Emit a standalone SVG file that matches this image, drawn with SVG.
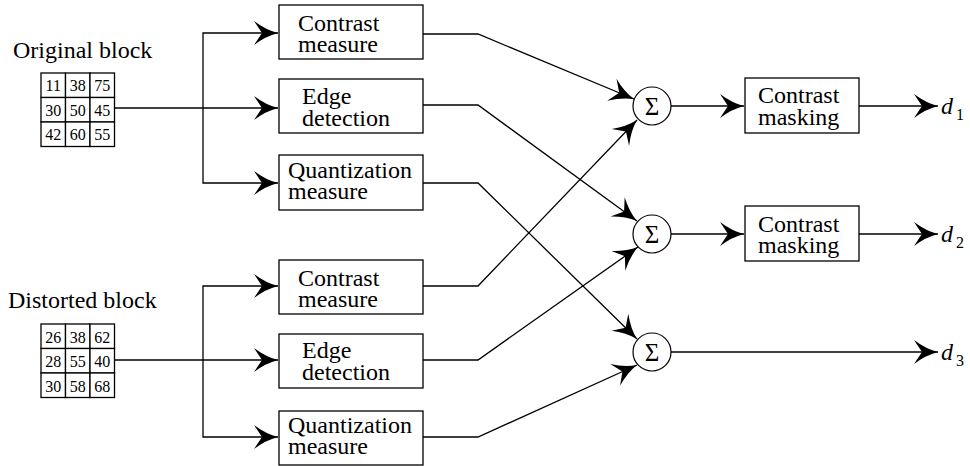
<svg xmlns="http://www.w3.org/2000/svg" width="970" height="466" viewBox="0 0 970 466" font-family="'Liberation Serif', 'DejaVu Serif', serif">
  <style>
    text { font-family: "Liberation Serif", "Times New Roman", "DejaVu Serif", serif; fill: #000; }
    .lbl { font-size: 24px; }
    .num { font-size: 16px; text-anchor: middle; }
    .sig { font-size: 25px; text-anchor: middle; }
    .out { font-size: 24px; font-style: italic; }
    .sub { font-size: 16px; font-style: normal; }
    .box { fill: #fff; stroke: #000; stroke-width: 1.3; }
    .cell { fill: #fff; stroke: #000; stroke-width: 1.3; }
    .sum { fill: #fff; stroke: #000; stroke-width: 1.2; }
    .wire { fill: none; stroke: #000; stroke-width: 1.3; }
    .arr { marker-end: url(#head); }
  </style>
  <defs>
    <marker id="head" viewBox="-26 -13 28 26" markerWidth="28" markerHeight="26" refX="0" refY="0" orient="auto" markerUnits="userSpaceOnUse">
      <path d="M0,0 Q-12,-3 -24,-12 L-16,0 L-24,12 Q-12,3 0,0 Z" fill="#000"/>
    </marker>
  </defs>

  <rect width="970" height="466" fill="#fff"/>

  <!-- connectors -->
  <g id="connectors">
    <!-- original block fan-out -->
    <path class="wire arr" d="M114,108 H278"/>
    <path class="wire arr" d="M203,108 V33 H278"/>
    <path class="wire arr" d="M203,108 V183 H278"/>
    <!-- distorted block fan-out -->
    <path class="wire arr" d="M114,360 H278"/>
    <path class="wire arr" d="M203,360 V286 H278"/>
    <path class="wire arr" d="M203,360 V437 H278"/>
    <!-- measures to summers -->
    <path class="wire arr" d="M423,34 H478 L634,99"/>
    <path class="wire arr" d="M423,105 H478 L637,221"/>
    <path class="wire arr" d="M423,183 H478 L637,339"/>
    <path class="wire arr" d="M423,286 H478 L637,120"/>
    <path class="wire arr" d="M423,360 H478 L638,247"/>
    <path class="wire arr" d="M423,437 H478 L637,365"/>
    <!-- summers to outputs -->
    <path class="wire arr" d="M671,106 H744"/>
    <path class="wire arr" d="M859,106 H938"/>
    <path class="wire arr" d="M671,234 H744"/>
    <path class="wire arr" d="M859,234 H938"/>
    <path class="wire arr" d="M671,352 H938"/>
  </g>

  <!-- original block -->
  <g id="original-block">
    <text class="lbl" x="13" y="58">Original block</text>
    <rect class="cell" x="41" y="73" width="24.5" height="24.5"/>
    <rect class="cell" x="65.5" y="73" width="24.5" height="24.5"/>
    <rect class="cell" x="90" y="73" width="24.5" height="24.5"/>
    <rect class="cell" x="41" y="97.5" width="24.5" height="24.5"/>
    <rect class="cell" x="65.5" y="97.5" width="24.5" height="24.5"/>
    <rect class="cell" x="90" y="97.5" width="24.5" height="24.5"/>
    <rect class="cell" x="41" y="122" width="24.5" height="24.5"/>
    <rect class="cell" x="65.5" y="122" width="24.5" height="24.5"/>
    <rect class="cell" x="90" y="122" width="24.5" height="24.5"/>
    <text class="num" x="53.25" y="91">11</text>
    <text class="num" x="77.75" y="91">38</text>
    <text class="num" x="102.25" y="91">75</text>
    <text class="num" x="53.25" y="115.5">30</text>
    <text class="num" x="77.75" y="115.5">50</text>
    <text class="num" x="102.25" y="115.5">45</text>
    <text class="num" x="53.25" y="140">42</text>
    <text class="num" x="77.75" y="140">60</text>
    <text class="num" x="102.25" y="140">55</text>
  </g>

  <!-- distorted block -->
  <g id="distorted-block">
    <text class="lbl" x="8" y="308">Distorted block</text>
    <rect class="cell" x="41" y="324" width="24.5" height="24.5"/>
    <rect class="cell" x="65.5" y="324" width="24.5" height="24.5"/>
    <rect class="cell" x="90" y="324" width="24.5" height="24.5"/>
    <rect class="cell" x="41" y="348.5" width="24.5" height="24.5"/>
    <rect class="cell" x="65.5" y="348.5" width="24.5" height="24.5"/>
    <rect class="cell" x="90" y="348.5" width="24.5" height="24.5"/>
    <rect class="cell" x="41" y="373" width="24.5" height="24.5"/>
    <rect class="cell" x="65.5" y="373" width="24.5" height="24.5"/>
    <rect class="cell" x="90" y="373" width="24.5" height="24.5"/>
    <text class="num" x="53.25" y="342.5">26</text>
    <text class="num" x="77.75" y="342.5">38</text>
    <text class="num" x="102.25" y="342.5">62</text>
    <text class="num" x="53.25" y="367">28</text>
    <text class="num" x="77.75" y="367">55</text>
    <text class="num" x="102.25" y="367">40</text>
    <text class="num" x="53.25" y="391.5">30</text>
    <text class="num" x="77.75" y="391.5">58</text>
    <text class="num" x="102.25" y="391.5">68</text>
  </g>

  <!-- measures for the original block -->
  <g id="contrast-1">
    <rect class="box" x="279" y="5" width="144" height="54"/>
    <text class="lbl" x="298" y="31">Contrast</text>
    <text class="lbl" x="298" y="52">measure</text>
  </g>
  <g id="edge-1">
    <rect class="box" x="279" y="79" width="144" height="54"/>
    <text class="lbl" x="302" y="104">Edge</text>
    <text class="lbl" x="302" y="126">detection</text>
  </g>
  <g id="quant-1">
    <rect class="box" x="279" y="155" width="144" height="55"/>
    <text class="lbl" x="288" y="178">Quantization</text>
    <text class="lbl" x="288" y="199">measure</text>
  </g>

  <!-- measures for the distorted block -->
  <g id="contrast-2">
    <rect class="box" x="279" y="260" width="144" height="54"/>
    <text class="lbl" x="298" y="286">Contrast</text>
    <text class="lbl" x="298" y="307">measure</text>
  </g>
  <g id="edge-2">
    <rect class="box" x="279" y="334" width="144" height="54"/>
    <text class="lbl" x="302" y="358">Edge</text>
    <text class="lbl" x="302" y="380">detection</text>
  </g>
  <g id="quant-2">
    <rect class="box" x="279" y="411" width="144" height="54"/>
    <text class="lbl" x="288" y="433">Quantization</text>
    <text class="lbl" x="288" y="454">measure</text>
  </g>

  <!-- summers -->
  <g id="sum-1">
    <circle class="sum" cx="652" cy="106" r="19"/>
    <text class="sig" x="652" y="115">Σ</text>
  </g>
  <g id="sum-2">
    <circle class="sum" cx="652" cy="234" r="19"/>
    <text class="sig" x="652" y="243">Σ</text>
  </g>
  <g id="sum-3">
    <circle class="sum" cx="652" cy="352" r="19"/>
    <text class="sig" x="652" y="361">Σ</text>
  </g>

  <!-- contrast masking -->
  <g id="mask-1">
    <rect class="box" x="745" y="78" width="114" height="55"/>
    <text class="lbl" x="758" y="103">Contrast</text>
    <text class="lbl" x="758" y="125">masking</text>
  </g>
  <g id="mask-2">
    <rect class="box" x="745" y="206" width="114" height="55"/>
    <text class="lbl" x="758" y="232">Contrast</text>
    <text class="lbl" x="758" y="253">masking</text>
  </g>

  <!-- outputs -->
  <g id="d1">
    <text class="out" x="941" y="114">d<tspan class="sub" dx="3" dy="6">1</tspan></text>
  </g>
  <g id="d2">
    <text class="out" x="941" y="242">d<tspan class="sub" dx="3" dy="6">2</tspan></text>
  </g>
  <g id="d3">
    <text class="out" x="941" y="360">d<tspan class="sub" dx="3" dy="6">3</tspan></text>
  </g>
</svg>
